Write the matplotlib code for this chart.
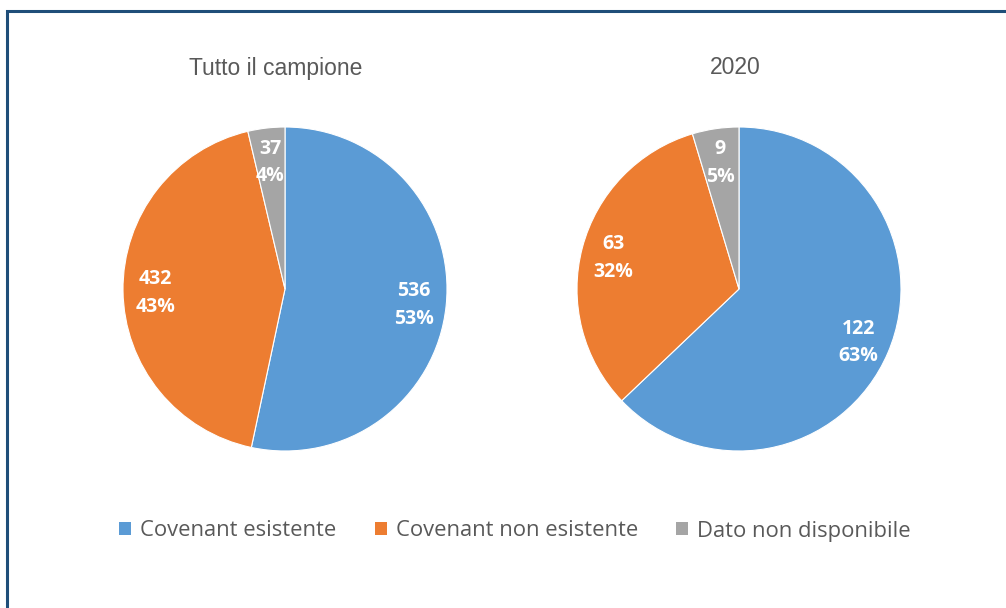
import matplotlib
matplotlib.use("Agg")
import matplotlib.pyplot as plt
from matplotlib.patches import Rectangle, Patch
import numpy as np

categories = ["Covenant esistente", "Covenant non esistente", "Dato non disponibile"]
titles = ["Tutto il campione", "2020"]
values_all = [536, 432, 37]
values_2020 = [122, 63, 9]
colors = ["#5B9BD5", "#ED7D31", "#A5A5A5"]

W, H = 1006, 608
fig = plt.figure(figsize=(W / 100, H / 100), dpi=100)

def fx(x):
    return x / W

def fy(y):
    return 1 - y / H

# frame
fig.patches.append(Rectangle((fx(7), fy(640)), fx(1040), fy(11) - fy(640),
                             transform=fig.transFigure, fill=False,
                             edgecolor="#1F4E79", linewidth=2.2, zorder=0))

R = 162
centers = [(285, 289), (739, 289)]
title_pos = [(276, 68), (735, 68)]
datasets = [values_all, values_2020]

for (cx, cy), (tx, ty), vals, title in zip(centers, title_pos, datasets, titles):
    ax = fig.add_axes([fx(cx - R), fy(cy + R), fx(2 * R), fy(cy - R) - fy(cy + R)])
    total = sum(vals)
    wedges, _ = ax.pie(vals, colors=colors, startangle=90, counterclock=False,
                       radius=1.0, wedgeprops=dict(edgecolor="white", linewidth=0.8))
    for w, v in zip(wedges, vals):
        ang = np.deg2rad((w.theta1 + w.theta2) / 2)
        r = 0.8
        ax.text(r * np.cos(ang), r * np.sin(ang) - 0.015, f"{v}\n{round(100 * v / total)}%",
                ha="center", va="center", color="white", fontweight="bold",
                fontsize=14, family="Open Sans", linespacing=1.5)
    ax.set_xlim(-1, 1)
    ax.set_ylim(-1, 1)
    ax.set_aspect("equal")
    ax.axis("off")
    fig.text(fx(tx), fy(ty), title, ha="center", va="center", fontsize=16.5,
             family="Liberation Sans", color="#595959")

handles = [Patch(facecolor=c, edgecolor="none") for c in colors]
leg = fig.legend(handles, categories, loc="center", bbox_to_anchor=(fx(515), fy(531)),
                 ncol=3, frameon=False, handlelength=0.55, handleheight=0.55,
                 handletextpad=0.4, columnspacing=1.75,
                 prop=dict(family="Open Sans", size=15.8))
for t in leg.get_texts():
    t.set_color("#595959")

fig.savefig("out.png", dpi=100)
